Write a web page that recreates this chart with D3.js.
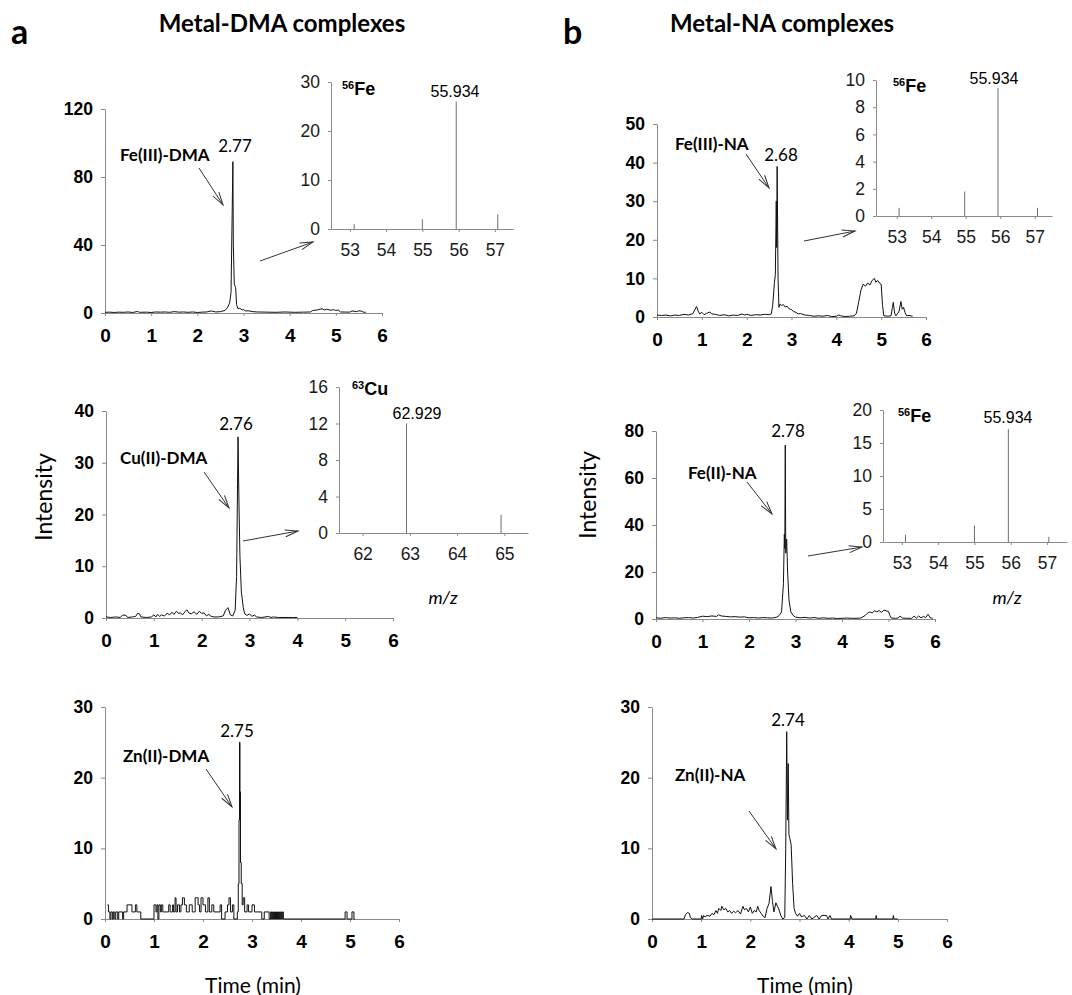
<!DOCTYPE html>
<html>
<head>
<meta charset="utf-8">
<script src="https://cdn.jsdelivr.net/npm/d3@7"></script>
<style>
  body { margin: 0; background: #ffffff; }
  svg { display: block; }
</style>
</head>
<body>
<div class="fig"></div>
<script>
// ************************ DATA ************************

// chromatograms: [time (min), intensity]
const feDmaTrace = [[0,0.4],[0.1,0.5],[0.2,0.3],[0.3,0.5],[0.4,0.4],[0.5,0.6],[0.6,0.3],[0.7,0.9],[0.75,0.4],[0.9,0.5],[1.0,0.3],[1.1,0.6],[1.2,0.5],[1.3,0.6],[1.4,0.4],[1.5,0.8],[1.6,0.5],[1.7,0.6],[1.8,0.4],[1.9,0.6],[2.0,0.3],[2.1,0.5],[2.2,0.6],[2.3,1.2],[2.4,0.6],[2.5,0.8],[2.6,1.5],[2.65,3],[2.7,6],[2.73,12],[2.75,50],[2.77,89],[2.78,40],[2.8,17],[2.83,15],[2.85,5],[2.88,2.5],[2.92,2.8],[2.97,1.8],[3.0,2],[3.05,1.2],[3.1,1.3],[3.2,0.8],[3.3,0.6],[3.5,0.5],[3.7,0.4],[3.9,0.6],[4.1,0.4],[4.3,0.5],[4.45,0.6],[4.5,1.5],[4.6,1.8],[4.7,2.5],[4.75,1.8],[4.8,2.2],[4.9,1.6],[4.95,2],[5.0,1.5],[5.05,1.8],[5.1,0.6],[5.3,0.5],[5.35,1.2],[5.45,0.8],[5.5,1.3],[5.55,1.1],[5.6,0.5],[5.65,0.4]]

const cuDmaTrace = [[0,0.2],[0.1,0.1],[0.2,0.2],[0.3,0.1],[0.35,0.6],[0.42,0.5],[0.45,0.1],[0.55,0.2],[0.62,0.3],[0.66,0.9],[0.7,0.8],[0.73,0.2],[0.85,0.1],[0.95,0.2],[1.0,0.6],[1.04,0.2],[1.08,0.7],[1.12,0.3],[1.16,0.6],[1.22,0.4],[1.28,0.9],[1.33,0.6],[1.38,1.1],[1.42,0.7],[1.47,1.3],[1.52,0.9],[1.56,1],[1.6,0.6],[1.65,1.2],[1.69,1.6],[1.73,1],[1.78,0.8],[1.84,1.2],[1.9,0.7],[1.95,1.3],[2.0,0.9],[2.05,1],[2.1,0.4],[2.15,0.7],[2.2,0.3],[2.26,0.2],[2.35,0.2],[2.45,0.4],[2.5,1.5],[2.55,2],[2.6,0.6],[2.65,0.4],[2.7,1.5],[2.73,8],[2.76,35],[2.78,22],[2.8,12],[2.83,5],[2.87,2],[2.9,0.8],[2.95,0.5],[3.0,0.8],[3.05,0.3],[3.1,0.6],[3.15,0.2],[3.25,0.1],[3.4,0.3],[3.45,0.1],[3.5,0.2],[3.6,0.1],[3.9,0.1],[4.0,0.1]]

// Zn(II)-DMA is a stepped signal (value holds until next time)
const znDmaTrace = [[0.05,2],[0.07,1],[0.1,0],[0.12,1],[0.15,0],[0.17,1],[0.2,0],[0.22,1],[0.26,0],[0.28,1],[0.36,0],[0.38,1],[0.45,2],[0.55,1],[0.62,2],[0.65,1],[0.73,0],[1.0,2],[1.04,1],[1.06,2],[1.08,0],[1.1,2],[1.13,1],[1.15,2],[1.18,1],[1.3,2],[1.33,1],[1.38,2],[1.4,1],[1.43,3],[1.45,1],[1.48,2],[1.52,1],[1.55,2],[1.58,3],[1.62,2],[1.66,1],[1.72,2],[1.78,1],[1.84,3],[1.9,2],[1.93,1],[1.96,3],[2.0,2],[2.05,1],[2.1,3],[2.13,1],[2.18,2],[2.22,1],[2.35,2],[2.38,0],[2.45,1],[2.5,2],[2.53,3],[2.56,1],[2.6,2],[2.63,0],[2.7,1],[2.72,5],[2.735,14],[2.745,25],[2.755,18],[2.765,8],[2.78,5],[2.8,2],[2.82,3],[2.85,1],[2.9,2],[2.93,1],[3.0,2],[3.05,1],[3.2,0],[3.25,1],[3.35,0],[3.38,1],[3.4,0],[3.42,1],[3.44,0],[3.46,1],[3.48,0],[3.5,1],[3.52,0],[3.54,1],[3.56,0],[3.58,1],[3.6,0],[3.62,1],[3.64,0],[4.9,1],[4.94,0],[5.04,1],[5.08,0],[5.1,0]]

const feIIINaTrace = [[0,0.5],[0.1,0.4],[0.2,0.5],[0.3,0.3],[0.4,0.5],[0.5,0.4],[0.6,0.7],[0.7,0.5],[0.8,0.9],[0.85,2],[0.88,2.7],[0.92,1.5],[0.95,0.8],[1.0,1.2],[1.05,0.6],[1.1,0.9],[1.18,1.3],[1.22,0.8],[1.3,0.7],[1.4,0.4],[1.5,0.6],[1.6,0.3],[1.7,0.5],[1.8,0.4],[1.9,0.8],[1.95,0.5],[2.0,0.7],[2.1,0.4],[2.2,0.6],[2.3,0.5],[2.4,0.7],[2.5,0.6],[2.55,0.8],[2.58,3],[2.62,9],[2.64,11],[2.66,30],[2.67,18],[2.68,39],[2.7,10],[2.72,2.5],[2.74,3.3],[2.78,3],[2.82,3.2],[2.86,2.6],[2.9,2.8],[2.95,2.1],[3.0,1.9],[3.05,1.4],[3.1,1.2],[3.15,0.8],[3.2,0.9],[3.3,0.5],[3.4,0.4],[3.5,0.2],[3.6,0.3],[3.7,0.2],[3.8,0.4],[3.9,0.1],[4.0,0.2],[4.05,0.5],[4.1,0.3],[4.2,0.1],[4.3,0.2],[4.4,0.3],[4.45,1],[4.5,4],[4.55,7],[4.6,8.5],[4.65,8],[4.7,8.8],[4.75,8.3],[4.8,9.5],[4.85,10],[4.88,9],[4.92,9.5],[4.96,8.8],[5.0,8.5],[5.03,3],[5.06,0.3],[5.15,0.2],[5.22,0.3],[5.25,2.5],[5.27,3.8],[5.3,1],[5.33,0.3],[5.4,1.5],[5.44,4],[5.47,2],[5.5,2.5],[5.53,1.2],[5.57,0.3],[5.62,0.4],[5.7,0.2]]

const feIINaTrace = [[0,0.5],[0.1,0.3],[0.2,0.6],[0.3,0.4],[0.4,0.5],[0.5,0.3],[0.6,0.5],[0.7,0.6],[0.8,0.4],[0.9,0.7],[1.0,1.2],[1.1,1],[1.2,1.3],[1.3,1.1],[1.35,1.8],[1.4,1.3],[1.5,1.1],[1.6,0.9],[1.7,1],[1.8,0.8],[1.9,0.9],[2.0,0.5],[2.1,0.6],[2.2,0.4],[2.3,0.6],[2.4,0.5],[2.5,0.4],[2.6,0.8],[2.65,1.5],[2.7,3],[2.74,15],[2.76,36],[2.77,30],[2.78,74],[2.79,28],[2.81,34],[2.83,20],[2.86,8],[2.9,3],[2.95,1.5],[3.0,0.8],[3.1,0.5],[3.2,0.7],[3.3,0.4],[3.4,0.6],[3.5,0.3],[3.6,0.5],[3.7,0.3],[3.8,0.4],[3.9,0.2],[4.0,0.3],[4.1,0.4],[4.2,0.3],[4.3,0.3],[4.4,0.4],[4.5,1.5],[4.55,2.5],[4.6,3],[4.65,2.6],[4.7,3.5],[4.75,3],[4.8,3.6],[4.85,2.8],[4.9,3.8],[4.95,3.5],[5.0,3.2],[5.03,1.5],[5.06,0.4],[5.15,0.3],[5.2,0.4],[5.25,1.2],[5.3,0.4],[5.4,0.3],[5.5,0.3],[5.55,1.2],[5.6,0.4],[5.65,1.3],[5.7,0.5],[5.75,1.1],[5.8,0.6],[5.85,2],[5.9,0.5],[5.95,0.3]]

const znNaTrace = [[0,0],[0.65,0],[0.68,0.6],[0.72,0.9],[0.76,0.8],[0.78,0.2],[0.82,0],[1.0,0],[1.01,0.5],[1.03,0],[1.05,0.5],[1.08,0.3],[1.12,0.5],[1.18,0.4],[1.22,0.8],[1.26,0.6],[1.3,1.2],[1.33,0.8],[1.36,1.5],[1.4,1.2],[1.42,1.8],[1.46,1.3],[1.5,1.5],[1.54,1],[1.58,1.2],[1.62,0.8],[1.66,1.1],[1.7,0.9],[1.75,1.2],[1.8,0.7],[1.85,1.8],[1.88,1.3],[1.92,1.5],[1.96,1],[2.0,1.7],[2.04,0.8],[2.08,1.2],[2.12,1],[2.15,1.8],[2.18,1.2],[2.22,0.8],[2.27,0.3],[2.3,0.2],[2.34,1.5],[2.38,2.2],[2.42,4.6],[2.45,2.5],[2.48,1],[2.52,2.3],[2.55,1.8],[2.58,1.4],[2.62,0.5],[2.66,0],[2.7,0.2],[2.72,10],[2.74,26.5],[2.755,14],[2.77,22],[2.785,12],[2.8,11.5],[2.83,10.5],[2.86,5],[2.89,1.5],[2.92,0.8],[2.96,0.4],[3.0,0.8],[3.04,0.3],[3.1,0.5],[3.15,0],[3.2,0.5],[3.25,0],[3.35,0.5],[3.4,0],[3.45,0.5],[3.55,0.5],[3.58,0],[3.62,0.5],[3.65,0],[4.03,0],[4.04,0.5],[4.07,0],[4.55,0],[4.56,0.5],[4.57,0],[4.9,0],[4.91,0.5],[4.92,0],[5.0,0]]

// mass spectra insets: m/z and abundance
const feDmaMz = [53.12, 55.0, 55.934, 57.08]
const feDmaAbund = [1, 2, 26, 3]
const cuDmaMz = [62.929, 64.93]
const cuDmaAbund = [12, 2]
const feIIINaMz = [53.07, 54.97, 55.934, 57.08]
const feIIINaAbund = [0.6, 1.8, 9.4, 0.6]
const feIINaMz = [53.1, 55.0, 55.934, 57.05]
const feIINaAbund = [1.1, 2.5, 17.1, 0.8]

// tick labels
const timeTicks = [0, 1, 2, 3, 4, 5, 6]
const feMzTicks = [53, 54, 55, 56, 57]
const cuMzTicks = [62, 63, 64, 65]

// ************************ STYLE ************************

const axisColor = "#8a8a8a"
const lineColor = "#111111"
const arial = "'Liberation Sans', Arial, sans-serif"
const calibri = "Lato, 'Open Sans', sans-serif"
const intFmt = d3.format("d")

// chromatogram layout
const chroms = [
  { data: feDmaTrace, x0: 105, x1: 382, yBase: 313, yTop: 109, yMax: 120, yTicks: [0, 40, 80, 120] },
  { data: cuDmaTrace, x0: 106, x1: 393, yBase: 618, yTop: 411, yMax: 40, yTicks: [0, 10, 20, 30, 40] },
  { data: znDmaTrace, x0: 105, x1: 399, yBase: 919, yTop: 707, yMax: 30, yTicks: [0, 10, 20, 30], step: true },
  { data: feIIINaTrace, x0: 657, x1: 926, yBase: 317, yTop: 124, yMax: 50, yTicks: [0, 10, 20, 30, 40, 50] },
  { data: feIINaTrace, x0: 656, x1: 935, yBase: 619, yTop: 431, yMax: 80, yTicks: [0, 20, 40, 60, 80] },
  { data: znNaTrace, x0: 652, x1: 947, yBase: 919, yTop: 707, yMax: 30, yTicks: [0, 10, 20, 30] }
]

// inset layout
const insets = [
  { mz: feDmaMz, ab: feDmaAbund, x0: 331, x1: 513, dom: [52.48, 57.5], yBase: 229, yTop: 82, yMax: 30, yTicks: [0, 10, 20, 30], xTicks: feMzTicks },
  { mz: cuDmaMz, ab: cuDmaAbund, x0: 339, x1: 528, dom: [61.5, 65.5], yBase: 533, yTop: 387, yMax: 16, yTicks: [0, 4, 8, 12, 16], xTicks: cuMzTicks },
  { mz: feIIINaMz, ab: feIIINaAbund, x0: 876, x1: 1052, dom: [52.4, 57.5], yBase: 216, yTop: 80, yMax: 10, yTicks: [0, 2, 4, 6, 8, 10], xTicks: feMzTicks },
  { mz: feIINaMz, ab: feIINaAbund, x0: 883, x1: 1067, dom: [52.48, 57.55], yBase: 542, yTop: 410, yMax: 20, yTicks: [0, 5, 10, 15, 20], xTicks: feMzTicks }
]

// ************************ DRAW ************************

const svg = d3.select(".fig")
  .append("svg")
  .attr("width", 1072)
  .attr("height", 995)

// open arrowhead
svg.append("defs")
  .append("marker")
  .attr("id", "head")
  .attr("markerUnits", "userSpaceOnUse")
  .attr("markerWidth", 16)
  .attr("markerHeight", 10)
  .attr("refX", 14)
  .attr("refY", 5)
  .attr("orient", "auto")
  .append("path")
  .attr("d", "M1,1.5 L14,5 L1,8.5")
  .attr("fill", "none")
  .attr("stroke", "#333")
  .attr("stroke-width", 1)

const styleAxis = (g, font, size, weight, color) => {
  g.select(".domain").attr("stroke", axisColor)
  g.selectAll(".tick line").attr("stroke", axisColor)
  g.selectAll("text")
    .attr("fill", color)
    .style("font-family", font)
    .style("font-size", size + "px")
    .style("font-weight", weight)
}

// chromatograms
chroms.forEach((c) => {
  const xScale = d3.scaleLinear().domain([0, 6]).range([c.x0, c.x1])
  const yScale = d3.scaleLinear().domain([0, c.yMax]).range([c.yBase, c.yTop])

  svg.append("g")
    .attr("transform", "translate(0," + c.yBase + ")")
    .call(d3.axisBottom(xScale).tickValues(timeTicks).tickFormat(intFmt)
      .tickSizeInner(3).tickSizeOuter(0).tickPadding(13))
    .call((g) => styleAxis(g, arial, 19, "bold", "#000"))

  svg.append("g")
    .attr("transform", "translate(" + c.x0 + ",0)")
    .call(d3.axisLeft(yScale).tickValues(c.yTicks).tickFormat(intFmt)
      .tickSizeInner(4).tickSizeOuter(0).tickPadding(8))
    .call((g) => styleAxis(g, arial, 17.5, "bold", "#000"))

  const line = d3.line()
    .x((d) => xScale(d[0]))
    .y((d) => yScale(d[1]))
    .curve(c.step ? d3.curveStepAfter : d3.curveLinear)

  svg.append("path")
    .datum(c.data)
    .attr("d", line)
    .attr("fill", "none")
    .attr("stroke", lineColor)
    .attr("stroke-width", 1)
})

// mass spectrum insets
insets.forEach((s) => {
  const xScale = d3.scaleLinear().domain(s.dom).range([s.x0, s.x1])
  const yScale = d3.scaleLinear().domain([0, s.yMax]).range([s.yBase, s.yTop])

  svg.append("g")
    .attr("transform", "translate(0," + s.yBase + ")")
    .call(d3.axisBottom(xScale).tickValues(s.xTicks).tickFormat(intFmt)
      .tickSizeInner(3).tickSizeOuter(0).tickPadding(12))
    .call((g) => styleAxis(g, arial, 17.5, "normal", "#1a1a1a"))

  svg.append("g")
    .attr("transform", "translate(" + s.x0 + ",0)")
    .call(d3.axisLeft(yScale).tickValues(s.yTicks).tickFormat(intFmt)
      .tickSizeInner(3).tickSizeOuter(0).tickPadding(8))
    .call((g) => styleAxis(g, arial, 17.5, "normal", "#1a1a1a"))

  svg.selectAll(null)
    .data(s.mz.map((m, i) => [m, s.ab[i]]))
    .enter()
    .append("line")
    .attr("x1", (d) => xScale(d[0]))
    .attr("x2", (d) => xScale(d[0]))
    .attr("y1", yScale(0))
    .attr("y2", (d) => yScale(d[1]))
    .attr("stroke", "#6e6e6e")
    .attr("stroke-width", 1)
})

// arrows [x1, y1, x2, y2]
const arrows = [
  [199, 168, 223, 205], [260, 261, 313, 242],
  [204, 472, 229, 508], [243, 541, 298, 531],
  [206, 769, 232, 807],
  [746, 154, 769, 188], [804, 241, 855, 231],
  [747, 482, 772, 514], [808, 556, 862, 547],
  [749, 811, 776, 849]
]

svg.selectAll(null)
  .data(arrows)
  .enter()
  .append("line")
  .attr("x1", (d) => d[0])
  .attr("y1", (d) => d[1])
  .attr("x2", (d) => d[2])
  .attr("y2", (d) => d[3])
  .attr("stroke", "#333")
  .attr("stroke-width", 1)
  .attr("marker-end", "url(#head)")

// generic text helper
const label = (x, y, str, font, size, weight, anchor) => {
  return svg.append("text")
    .attr("x", x)
    .attr("y", y)
    .attr("dominant-baseline", "central")
    .attr("text-anchor", anchor || "start")
    .style("font-family", font)
    .style("font-size", size + "px")
    .style("font-weight", weight)
    .attr("fill", "#000")
    .text(str)
}

// panel letters and titles
label(11, 30, "a", calibri, 34, "bold")
label(563, 30, "b", calibri, 34, "bold")
label(282, 22, "Metal-DMA complexes", calibri, 24, "bold", "middle")
label(782, 22, "Metal-NA complexes", calibri, 24, "bold", "middle")

// compound names
label(120, 154, "Fe(III)-DMA", calibri, 17, "bold")
label(120, 457, "Cu(II)-DMA", calibri, 17, "bold")
label(123, 755, "Zn(II)-DMA", calibri, 17, "bold")
label(675, 143, "Fe(III)-NA", calibri, 17, "bold")
label(688, 472, "Fe(II)-NA", calibri, 17, "bold")
label(675, 774, "Zn(II)-NA", calibri, 17, "bold")

// retention times
label(235, 145, "2.77", calibri, 17, "normal", "middle")
label(236, 423, "2.76", calibri, 17, "normal", "middle")
label(237, 730, "2.75", calibri, 17, "normal", "middle")
label(781, 154, "2.68", calibri, 17, "normal", "middle")
label(788, 430, "2.78", calibri, 17, "normal", "middle")
label(788, 719, "2.74", calibri, 17, "normal", "middle")

// inset peak masses
label(455, 91, "55.934", arial, 16, "normal", "middle")
label(417, 413, "62.929", arial, 16, "normal", "middle")
label(994, 78, "55.934", arial, 16, "normal", "middle")
label(1008, 417, "55.934", arial, 16, "normal", "middle")

// isotope tags with superscript mass number
const isotope = (x, y, mass, el) => {
  const t = svg.append("text")
    .attr("x", x)
    .attr("y", y)
    .style("font-family", arial)
    .style("font-weight", "bold")
    .attr("fill", "#000")
  t.append("tspan").style("font-size", "11px").attr("dy", -6).text(mass)
  t.append("tspan").style("font-size", "18px").attr("dy", 6).text(el)
}
isotope(342, 95, "56", "Fe")
isotope(352, 395, "63", "Cu")
isotope(893, 92, "56", "Fe")
isotope(898, 422, "56", "Fe")

// axis titles
label(43, 497, "Intensity", calibri, 23, "normal", "middle")
  .attr("transform", "rotate(-90,43,497)")
label(587, 495, "Intensity", calibri, 23, "normal", "middle")
  .attr("transform", "rotate(-90,587,495)")
label(253, 984, "Time (min)", calibri, 21, "normal", "middle")
label(805, 984, "Time (min)", calibri, 21, "normal", "middle")
label(443, 597, "m/z", calibri, 18, "normal", "middle").style("font-style", "italic")
label(1007, 597, "m/z", calibri, 18, "normal", "middle").style("font-style", "italic")
</script>
</body>
</html>
